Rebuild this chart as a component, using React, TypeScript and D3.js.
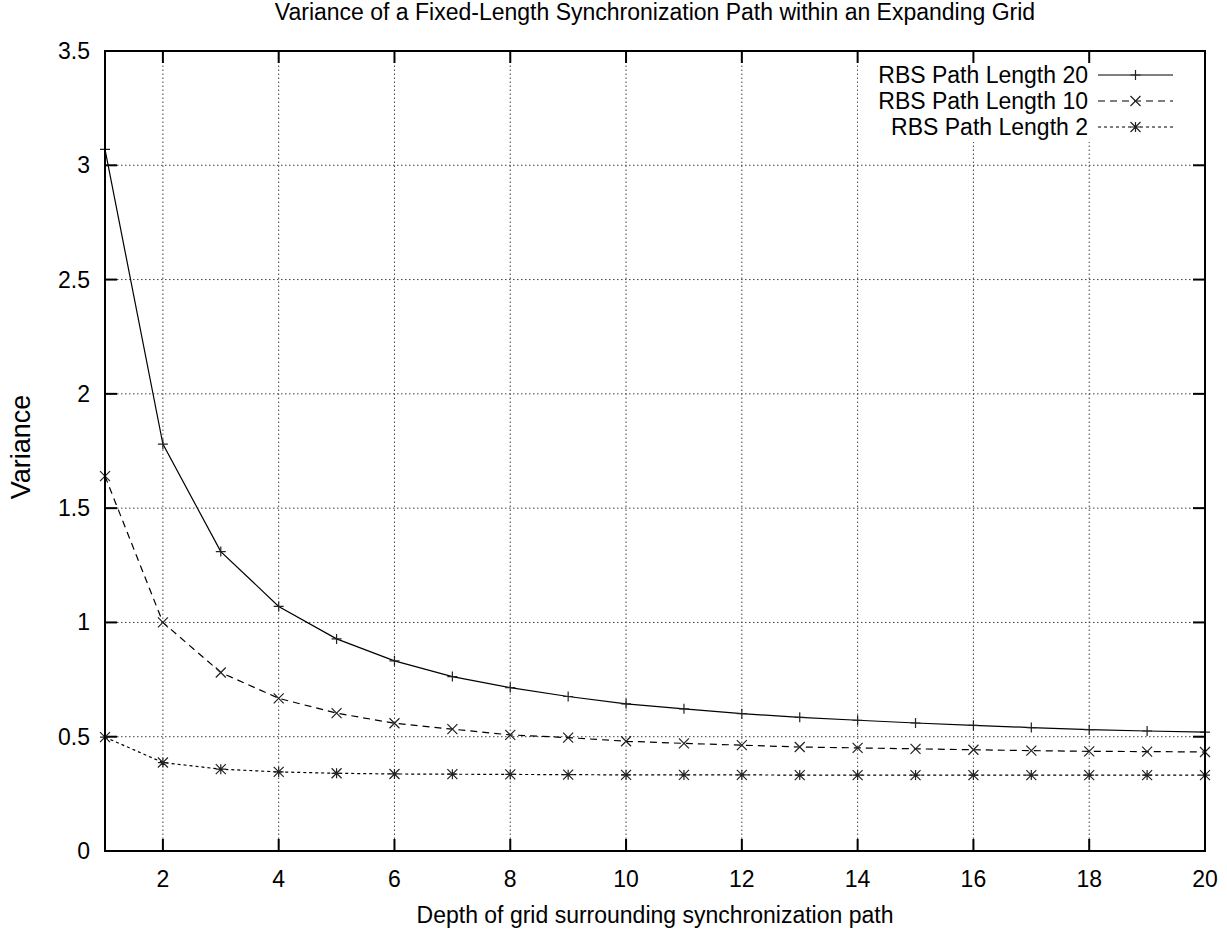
import React, { useEffect, useRef } from 'react';
import * as d3 from 'd3';

// depth of grid (x) and variance for each RBS path length
const depth = [1, 2, 3, 4, 5, 6, 7, 8, 9, 10, 11, 12, 13, 14, 15, 16, 17, 18, 19, 20];
const len20 = [3.07, 1.78, 1.31, 1.07, 0.928, 0.832, 0.763, 0.715, 0.676, 0.644, 0.622, 0.601, 0.585, 0.572, 0.56, 0.55, 0.54, 0.531, 0.525, 0.52];
const len10 = [1.64, 1.0, 0.781, 0.668, 0.603, 0.559, 0.533, 0.508, 0.496, 0.48, 0.471, 0.463, 0.455, 0.451, 0.447, 0.443, 0.439, 0.436, 0.435, 0.433];
const len2 = [0.498, 0.387, 0.358, 0.346, 0.34, 0.337, 0.336, 0.335, 0.334, 0.333, 0.333, 0.333, 0.332, 0.332, 0.332, 0.332, 0.332, 0.332, 0.332, 0.332];

const xTicks = [2, 4, 6, 8, 10, 12, 14, 16, 18, 20];
const yTicks = [0, 0.5, 1, 1.5, 2, 2.5, 3, 3.5];

const seriesNames = ['RBS Path Length 20', 'RBS Path Length 10', 'RBS Path Length 2'];

const title = 'Variance of a Fixed-Length Synchronization Path within an Expanding Grid';
const xTitle = 'Depth of grid surrounding synchronization path';
const yTitle = 'Variance';

const W = 1227;
const H = 939;
const FONT = "'Liberation Sans', Arial, Helvetica, sans-serif";

// marker shapes, drawn around (0,0)
const plusPath = 'M-5,0H5M0,-5V5';
const crossPath = 'M-5,-5L5,5M-5,5L5,-5';
const starPath = plusPath + crossPath;

const App = () => {
  const ref = useRef<SVGSVGElement>(null);

  useEffect(() => {
    const svg = d3.select(ref.current);
    svg.selectAll('*').remove();

    const left = 105, right = 1205, top = 51, bottom = 851;

    const x = d3.scaleLinear().domain([1, 20]).range([left, right]);
    const y = d3.scaleLinear().domain([0, 3.5]).range([bottom, top]);

    svg.append('rect').attr('width', W).attr('height', H).attr('fill', '#fff');

    // grid
    const grid = svg.append('g')
      .attr('stroke', '#000')
      .attr('stroke-width', 1)
      .attr('stroke-dasharray', '1.5,2.5')
      .attr('opacity', 0.75);
    xTicks.filter(t => t < 20).forEach(t => {
      grid.append('line')
        .attr('x1', x(t)).attr('x2', x(t))
        .attr('y1', bottom).attr('y2', top);
    });
    yTicks.filter(t => t > 0 && t < 3.5).forEach(t => {
      grid.append('line')
        .attr('x1', left).attr('x2', right)
        .attr('y1', y(t)).attr('y2', y(t));
    });

    // legend background hides grid behind key
    svg.append('rect')
      .attr('x', 858).attr('y', 58)
      .attr('width', 340).attr('height', 84)
      .attr('fill', '#fff');

    // ticks (inward, mirrored)
    const ticks = svg.append('g').attr('stroke', '#000').attr('stroke-width', 2);
    xTicks.forEach(t => {
      ticks.append('line').attr('x1', x(t)).attr('x2', x(t)).attr('y1', bottom).attr('y2', bottom - 12);
      ticks.append('line').attr('x1', x(t)).attr('x2', x(t)).attr('y1', top).attr('y2', top + 12);
    });
    yTicks.forEach(t => {
      ticks.append('line').attr('x1', left).attr('x2', left + 12).attr('y1', y(t)).attr('y2', y(t));
      ticks.append('line').attr('x1', right).attr('x2', right - 12).attr('y1', y(t)).attr('y2', y(t));
    });

    // tick labels
    const labels = svg.append('g')
      .style('font-family', FONT)
      .style('font-size', '23px')
      .attr('fill', '#000');
    xTicks.forEach(t => {
      labels.append('text')
        .attr('x', x(t)).attr('y', 887)
        .attr('text-anchor', 'middle')
        .text(d3.format('d')(t));
    });
    yTicks.forEach(t => {
      labels.append('text')
        .attr('x', 90).attr('y', y(t))
        .attr('dy', '0.35em')
        .attr('text-anchor', 'end')
        .text(String(t));
    });

    // series
    const series = [
      { name: seriesNames[0], values: len20, dash: null, marker: plusPath },
      { name: seriesNames[1], values: len10, dash: '7,5', marker: crossPath },
      { name: seriesNames[2], values: len2, dash: '3,3', marker: starPath },
    ];

    const line = d3.line<number>()
      .x((d, i) => x(depth[i]))
      .y(d => y(d));

    series.forEach((s, si) => {
      svg.append('path')
        .datum(s.values)
        .attr('fill', 'none')
        .attr('stroke', '#000')
        .attr('stroke-width', 1.2)
        .attr('stroke-dasharray', s.dash)
        .attr('d', line);

      svg.append('g')
        .selectAll('path')
        .data(s.values)
        .enter().append('path')
        .attr('transform', (d, i) => `translate(${x(depth[i])},${y(d)})`)
        .attr('d', s.marker)
        .attr('fill', 'none')
        .attr('stroke', '#222')
        .attr('stroke-width', 1.2);

      // legend entry
      const ly = 75 + si * 26;
      svg.append('text')
        .attr('x', 1088).attr('y', ly)
        .attr('dy', '0.35em')
        .attr('text-anchor', 'end')
        .style('font-family', FONT)
        .style('font-size', '23px')
        .text(s.name);
      svg.append('line')
        .attr('x1', 1098).attr('x2', 1173)
        .attr('y1', ly).attr('y2', ly)
        .attr('stroke', '#000')
        .attr('stroke-width', 1.2)
        .attr('stroke-dasharray', s.dash);
      svg.append('path')
        .attr('transform', `translate(1135.5,${ly})`)
        .attr('d', s.marker)
        .attr('fill', 'none')
        .attr('stroke', '#222')
        .attr('stroke-width', 1.2);
    });

    // border
    svg.append('rect')
      .attr('x', left).attr('y', top)
      .attr('width', right - left).attr('height', bottom - top)
      .attr('fill', 'none')
      .attr('stroke', '#000')
      .attr('stroke-width', 2);

    // titles
    svg.append('text')
      .attr('x', (left + right) / 2).attr('y', 20)
      .attr('text-anchor', 'middle')
      .style('font-family', FONT)
      .style('font-size', '23px')
      .text(title);

    svg.append('text')
      .attr('x', (left + right) / 2).attr('y', 923)
      .attr('text-anchor', 'middle')
      .style('font-family', FONT)
      .style('font-size', '23px')
      .text(xTitle);

    svg.append('text')
      .attr('transform', `translate(30,447) rotate(-90)`)
      .attr('text-anchor', 'middle')
      .style('font-family', FONT)
      .style('font-size', '27px')
      .text(yTitle);
  }, []);

  return (
    <div style={{ position: 'absolute', left: 0, top: 0 }}>
      <svg ref={ref} width={W} height={H}></svg>
    </div>
  );
};

export default App;
